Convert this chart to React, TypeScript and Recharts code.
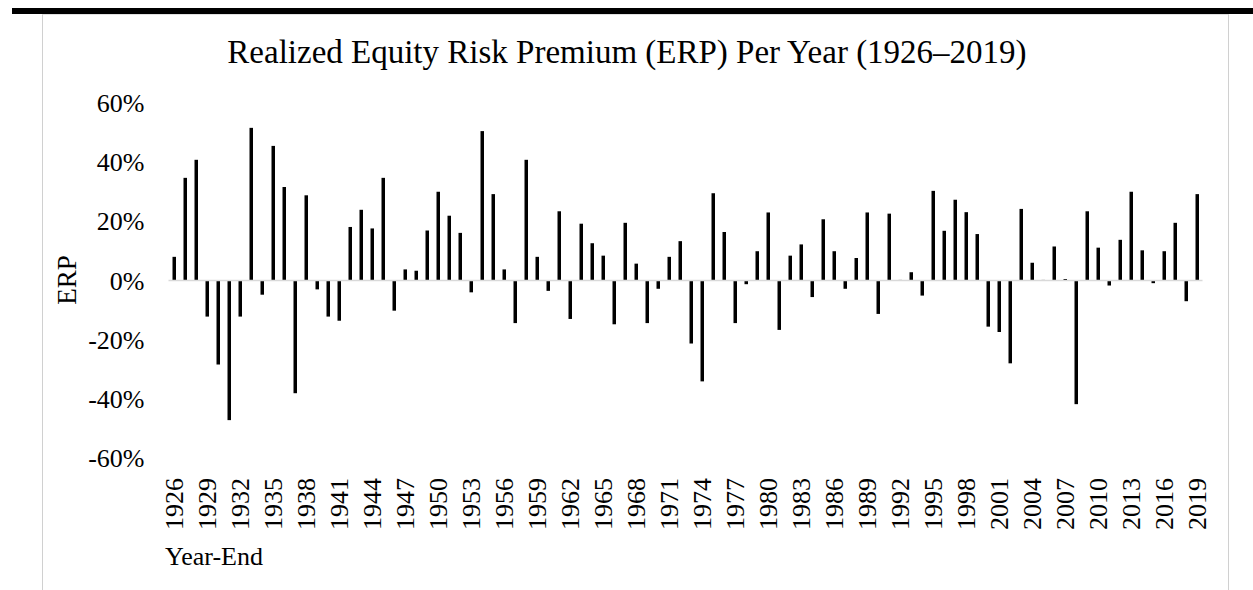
import React from 'react';
import { BarChart, Bar, XAxis, YAxis, ReferenceLine } from 'recharts';

const years = [
  '1926','1927','1928','1929','1930','1931','1932','1933','1934','1935',
  '1936','1937','1938','1939','1940','1941','1942','1943','1944','1945',
  '1946','1947','1948','1949','1950','1951','1952','1953','1954','1955',
  '1956','1957','1958','1959','1960','1961','1962','1963','1964','1965',
  '1966','1967','1968','1969','1970','1971','1972','1973','1974','1975',
  '1976','1977','1978','1979','1980','1981','1982','1983','1984','1985',
  '1986','1987','1988','1989','1990','1991','1992','1993','1994','1995',
  '1996','1997','1998','1999','2000','2001','2002','2003','2004','2005',
  '2006','2007','2008','2009','2010','2011','2012','2013','2014','2015',
  '2016','2017','2018','2019',
];

// ERP in percent
const erpValues = [
  8.0, 34.7, 40.8, -12.2, -28.4, -47.2, -12.2, 51.6, -4.8, 45.5,
  31.6, -38.1, 28.8, -3.0, -12.2, -13.6, 18.1, 23.9, 17.6, 34.7,
  -10.2, 3.75, 3.3, 16.9, 30.0, 21.9, 16.1, -4.0, 50.5, 29.2,
  3.75, -14.4, 40.8, 8.0, -3.5, 23.4, -13.0, 19.2, 12.6, 8.4,
  -14.8, 19.5, 5.7, -14.4, -2.8, 8.0, 13.3, -21.3, -34.1, 29.5,
  16.4, -14.4, -1.25, 9.9, 23.0, -16.7, 8.4, 12.2, -5.6, 20.7,
  9.9, -2.8, 7.6, 23.0, -11.3, 22.6, 0.2, 2.8, -5.1, 30.3,
  16.8, 27.3, 23.1, 15.7, -15.6, -17.4, -28.0, 24.2, 6.0, 0.2,
  11.5, 0.5, -41.8, 23.4, 11.1, -1.7, 13.75, 30.0, 10.2, -0.9,
  9.9, 19.5, -7.0, 29.2,
];

const yTicks = [-60, -40, -20, 0, 20, 40, 60];

const titleText = 'Realized Equity Risk Premium (ERP) Per Year (1926–2019)';
const yAxisTitle = 'ERP';
const xAxisTitle = 'Year-End';

const data = years.map((y, i) => ({ year: y, erp: erpValues[i] }));

const FONT = "'Liberation Serif', 'Times New Roman', Times, serif";
const txt = { fontFamily: FONT, fontSize: 26, fill: '#000' };

const YTick = (props: any) => {
  const { x, y, payload } = props;
  return (
    <text x={x} y={y} dy="0.35em" textAnchor="end" style={txt}>
      {`${payload.value}%`}
    </text>
  );
};

const XTick = (props: any) => {
  const { x, y, payload } = props;
  return (
    <g transform={`translate(${x},${y})`}>
      <text transform="rotate(-90)" textAnchor="end" dy="0.35em" style={txt}>
        {payload.value}
      </text>
    </g>
  );
};

export default function App() {
  return (
    <div style={{ position: 'absolute', left: 0, top: 0, width: 1253, height: 590, background: '#fff', overflow: 'hidden', fontFamily: FONT }}>
      <div style={{ position: 'absolute', left: 12, top: 8, width: 1241, height: 6, background: '#000' }} />
      <div style={{ position: 'absolute', left: 42, top: 14, width: 1185, height: 576, borderLeft: '1px solid #d0d0d0', borderRight: '1px solid #d0d0d0', borderTop: '1px solid #e0e0e0' }} />
      <div style={{ position: 'absolute', left: 0, top: 0 }}>
        <BarChart width={1253} height={590} data={data} margin={{ top: 103, right: 50.5, bottom: 0, left: 0 }} style={{ fontFamily: FONT }}>
          <XAxis
            dataKey="year"
            height={132}
            interval={2}
            tick={<XTick />}
            tickLine={false}
            axisLine={false}
            tickSize={0}
            tickMargin={20}
          />
          <YAxis
            width={168.5}
            domain={[-60, 60]}
            ticks={yTicks}
            tick={<YTick />}
            tickLine={false}
            axisLine={false}
            tickSize={0}
            tickMargin={24}
            allowDataOverflow
          />
          <ReferenceLine y={0} stroke="#d9d9d9" strokeWidth={1.5} />
          <Bar dataKey="erp" fill="#000" barSize={3.5} isAnimationActive={false} />
        </BarChart>
      </div>
      <svg width={1253} height={590} style={{ position: 'absolute', left: 0, top: 0, pointerEvents: 'none' }}>
        <text x={627} y={63} textAnchor="middle" style={{ ...txt, fontSize: 33 }}>{titleText}</text>
        <text x={67} y={280} transform="rotate(-90 67 280)" textAnchor="middle" dy="0.35em" style={{ ...txt, fontSize: 27 }}>{yAxisTitle}</text>
        <text x={165} y={565} textAnchor="start" style={txt}>{xAxisTitle}</text>
      </svg>
    </div>
  );
}
